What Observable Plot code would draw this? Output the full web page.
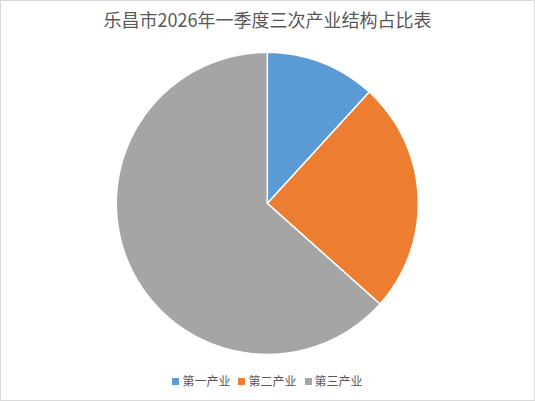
<!DOCTYPE html>
<html>
<head>
<meta charset="utf-8">
<script src="https://cdn.jsdelivr.net/npm/d3@7"></script>
<script src="https://cdn.jsdelivr.net/npm/@observablehq/plot@0.6"></script>
<style>
  html, body { margin: 0; padding: 0; background: #fff; }
  #wrap { position: relative; width: 533px; height: 399px; border: 1px solid #D9D9D9; background: #fff; font-family: "Noto Sans CJK SC", "Noto Sans", sans-serif; overflow: hidden; }
  #title { position: absolute; left: 0; top: 4px; width: 533px; text-align: center; font-size: 18px; color: #595959; line-height: 28px; }
  #chart { position: absolute; left: -1px; top: 39px; }
  #legend { position: absolute; left: 0; top: 371px; width: 533px; display: flex; justify-content: center; align-items: center; font-size: 12px; color: #595959; line-height: 18px; }
  .item { display: flex; align-items: center; margin: 0 4px; }
  .sw { width: 7px; height: 7px; margin-right: 3px; }
</style>
</head>
<body>
<div id="wrap">
  <div id="title"></div>
  <div id="chart"></div>
  <div id="legend"></div>
</div>
<script>
const titleText = "乐昌市2026年一季度三次产业结构占比表";
const categories = ["第一产业", "第二产业", "第三产业"];
const shares = [11.8, 24.8, 63.4];
const colors = ["#5B9BD5", "#ED7D31", "#A5A5A5"];

document.getElementById("title").textContent = titleText;

// Build slice outlines (unit circle geometry) from the shares
const total = d3.sum(shares);
const rows = [];
let start = 0;
categories.forEach((c, i) => {
  const a0 = start / total * 2 * Math.PI;
  const a1 = (start + shares[i]) / total * 2 * Math.PI;
  start += shares[i];
  const n = Math.max(4, Math.ceil((a1 - a0) / (Math.PI / 180)));
  rows.push({cat: c, x: 0, y: 0});
  for (let k = 0; k <= n; k++) {
    const a = a0 + (a1 - a0) * k / n;
    rows.push({cat: c, x: Math.sin(a), y: Math.cos(a)});
  }
  rows.push({cat: c, x: 0, y: 0});
});

const cx = 267.3, cy = 163.2, R = 151.3;
const chart = Plot.plot({
  width: 535,
  height: 323,
  margin: 0,
  x: {domain: [-1, 1], range: [cx - R, cx + R], axis: null},
  y: {domain: [-1, 1], range: [cy + R, cy - R], axis: null},
  color: {domain: categories, range: colors},
  marks: [
    Plot.line(rows, {x: "x", y: "y", z: "cat", fill: "cat", stroke: "#ffffff", strokeWidth: 1.5, strokeLinejoin: "round", curve: "linear"})
  ]
});
document.getElementById("chart").appendChild(chart);

const legend = document.getElementById("legend");
categories.forEach((c, i) => {
  const it = document.createElement("div");
  it.className = "item";
  const sw = document.createElement("div");
  sw.className = "sw";
  sw.style.background = colors[i];
  const t = document.createElement("span");
  t.textContent = c;
  it.appendChild(sw);
  it.appendChild(t);
  legend.appendChild(it);
});
</script>
</body>
</html>
